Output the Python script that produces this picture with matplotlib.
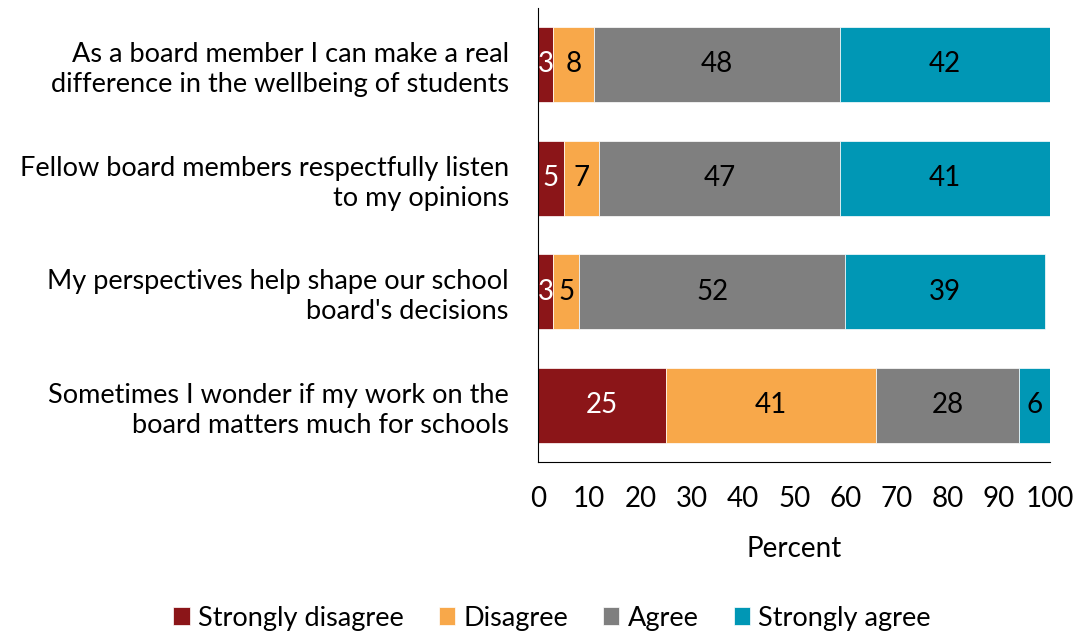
import matplotlib.pyplot as plt
import numpy as np

plt.rcParams['font.family'] = ['Lato', 'DejaVu Sans']

statements = [
    "As a board member I can make a real\ndifference in the wellbeing of students",
    "Fellow board members respectfully listen\nto my opinions",
    "My perspectives help shape our school\nboard's decisions",
    "Sometimes I wonder if my work on the\nboard matters much for schools",
]
responses = ["Strongly disagree", "Disagree", "Agree", "Strongly agree"]
strongly_disagree = [3, 5, 3, 25]
disagree = [8, 7, 5, 41]
agree = [48, 47, 52, 28]
strongly_agree = [42, 41, 39, 6]

colors = ["#8B1518", "#F8A84A", "#7F7F7F", "#0097B5"]
text_colors = ["white", "black", "black", "black"]
fs = 19.5

fig = plt.figure(figsize=(10.76, 6.35), dpi=100)
ax = fig.add_axes([0.5, 0.272, 0.476, 0.716])

y = np.arange(len(statements))
left = np.zeros(len(statements))
series = [strongly_disagree, disagree, agree, strongly_agree]
for vals, name, col, tcol in zip(series, responses, colors, text_colors):
    vals = np.array(vals)
    ax.barh(y, vals, left=left, height=0.66, color=col, label=name,
            edgecolor="white", linewidth=0.5)
    for yi, (l, v) in enumerate(zip(left, vals)):
        ax.text(min(l + v / 2, (l + 100) / 2), yi, str(v), ha="center", va="center",
                color=tcol, fontsize=20)
    left += vals

ax.set_xlim(0, 100)
ax.set_ylim(3.5, -0.5)
ax.set_xticks(range(0, 101, 10))
ax.set_yticks(y)
ax.set_yticklabels(statements, fontsize=fs, linespacing=1.25)
ax.tick_params(axis="both", length=0)
ax.tick_params(axis="x", pad=17, labelsize=20)
ax.tick_params(axis="y", pad=21)
ax.set_xlabel("Percent", fontsize=20, labelpad=17)
for s in ["top", "right"]:
    ax.spines[s].set_visible(False)

fig.legend(loc="lower center", bbox_to_anchor=(0.513, -0.032), ncol=4, frameon=False,
           fontsize=19.5, handlelength=0.6, handleheight=0.65, handletextpad=0.3,
           columnspacing=1.3)

fig.savefig("out.png", dpi=100)
